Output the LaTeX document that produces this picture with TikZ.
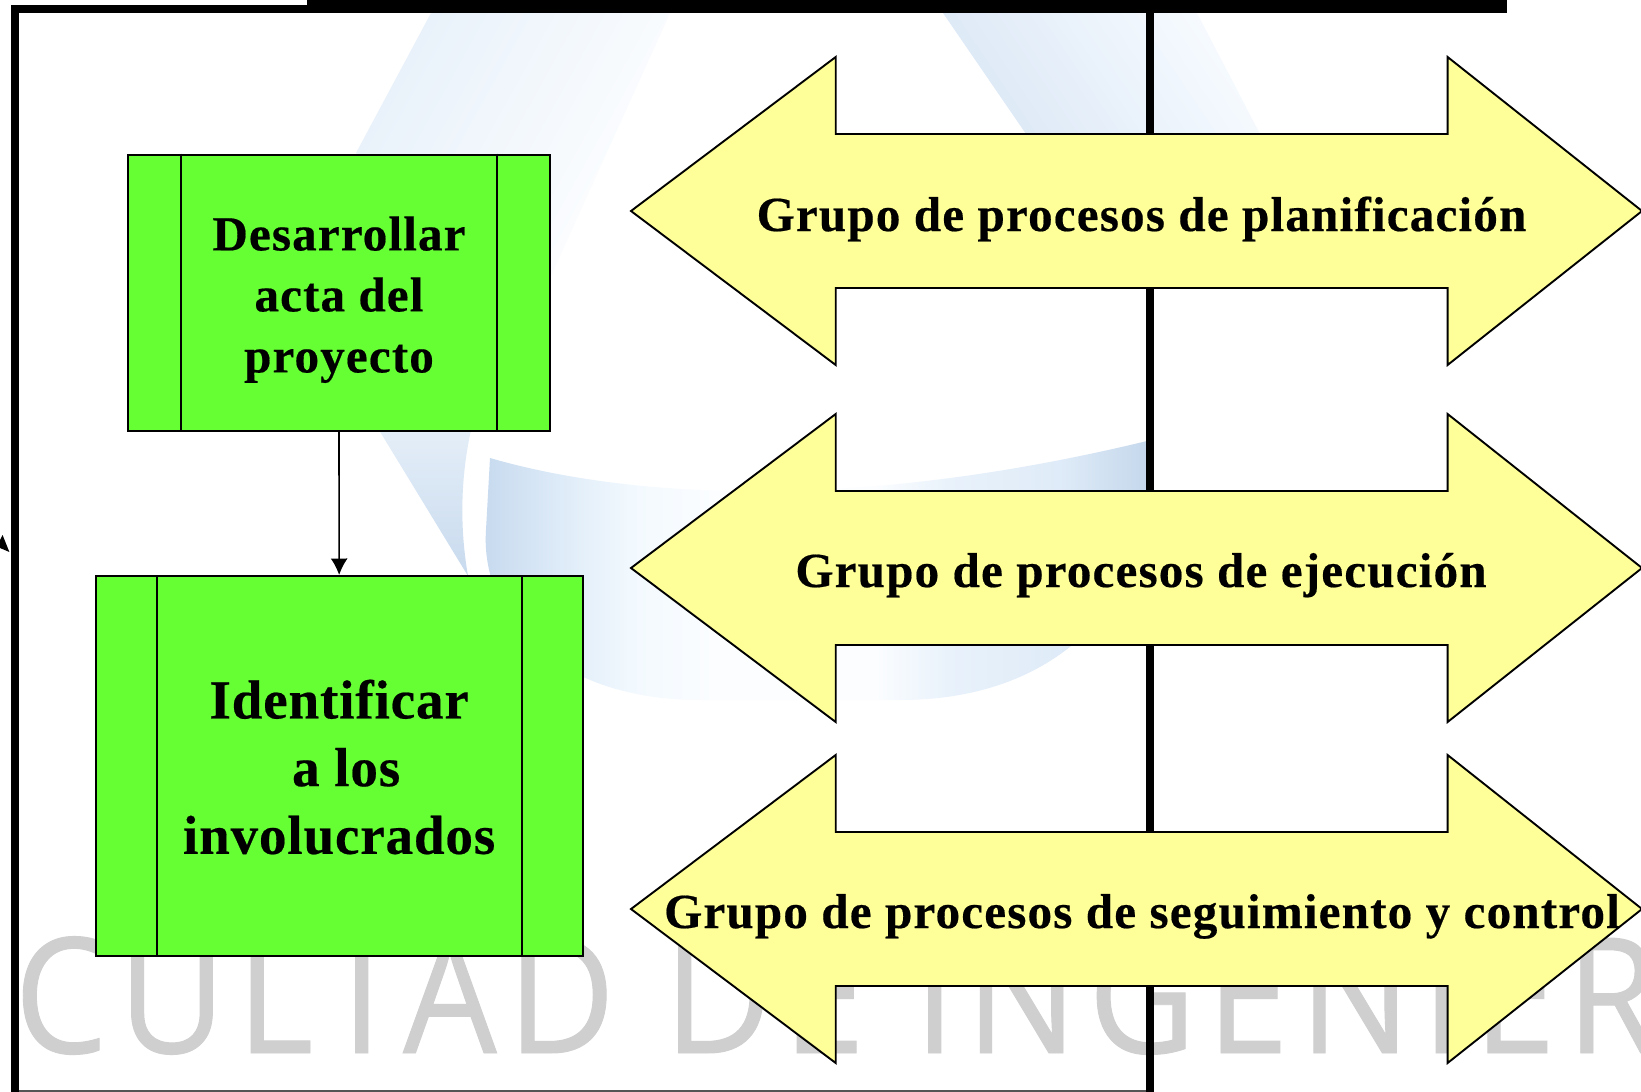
\documentclass[tikz,border=0pt]{standalone}
\usepackage{fontspec}
\setmainfont{Liberation Serif}
\newfontfamily\wmfont[LetterSpace=7.1,FakeBold=0.6]{Open Sans}
\usetikzlibrary{arrows.meta}
\definecolor{gren}{HTML}{66FF33}
\definecolor{yel}{HTML}{FFFF99}
\definecolor{wmgray}{HTML}{CFCFCF}
\definecolor{ca}{HTML}{C6D9EE}
\definecolor{cb}{HTML}{DBE9F7}
\definecolor{cc}{HTML}{F2F9FE}
\definecolor{cd}{HTML}{FBFDFF}
\definecolor{ce}{HTML}{E9F2FB}
\definecolor{cf}{HTML}{DFEBF8}
\definecolor{cg}{HTML}{C5D8EC}
\definecolor{ba}{HTML}{E8F1FA}
\definecolor{bb}{HTML}{DCE8F6}
\definecolor{bc}{HTML}{F7FBFF}
\definecolor{wa}{HTML}{E4EEF8}
\definecolor{wb}{HTML}{C8DAEE}
\definecolor{hair}{HTML}{555555}
\pgfdeclarehorizontalshading{cres}{100bp}{color(0bp)=(ca); color(25bp)=(ca); color(30.3bp)=(cb); color(36.4bp)=(cc); color(42.5bp)=(cd); color(54.7bp)=(cd); color(60bp)=(ce); color(68.4bp)=(cf); color(75bp)=(cg); color(100bp)=(cg)}
\newcommand{\dblarrow}[1]{%
  \draw[arrowshape] (631,#1) -- (835.7,#1-154) -- (835.7,#1-77) -- (1447.6,#1-77) -- (1447.6,#1-154)
    -- (1642,#1) -- (1447.6,#1+154) -- (1447.6,#1+77) -- (835.7,#1+77) -- (835.7,#1+154) -- cycle;}
\tikzset{
  framebar/.style={fill=black,draw=none},
  arrowshape/.style={fill=yel,draw=black,line width=1.9pt,line join=miter},
  procbox/.style={fill=gren,draw=black,line width=2pt,inner sep=0pt,align=center},
  boxrule/.style={draw=black,line width=1.8pt},
  grouplabel/.style={anchor=base,inner sep=0pt,font=\fontsize{49}{58}\selectfont\bfseries\addfontfeature{LetterSpace=2.5,FakeBold=0.4}},
}
\begin{document}
\begin{tikzpicture}[x=1pt,y=-1pt]
\useasboundingbox (0,0) rectangle (1641,1092);
\fill[white] (0,0) rectangle (1641,1092);
\begin{scope}
\clip (0,0) rectangle (1641,1092);
% watermark: logo bands
\shade[top color=ba,bottom color=white,shading angle=61]
  (431,13) -- (670,13) -- (540,300) -- (356,153) -- cycle;
\shade[top color=bb,bottom color=bc,shading angle=124]
  (943,13) -- (1197,13) -- (1260,134) -- (1026,134) -- cycle;
\shade[top color=wa,bottom color=wb]
  (379,430) -- (471,430) .. controls (460,480) and (460,530) .. (468,576) -- cycle;
\path[shading=cres]
  (490,458) .. controls (600,490) and (820,520) .. (1147,441) -- (1147,500)
  .. controls (1140,600) and (1060,700) .. (900,700) -- (700,700)
  .. controls (560,700) and (480,620) .. (486,530) -- cycle;
% watermark: text
\node[anchor=base west,inner sep=0pt,text=wmgray] (wm) at (14,1053)
  {\scalebox{.92}[1]{\wmfont\fontsize{161}{170}\selectfont CULTAD DE INGENIER}};
\end{scope}
% frame
\fill[framebar] (10.5,4.6) rectangle (18.8,1092);
\fill[framebar] (10.5,4.6) rectangle (307,13);
\fill[framebar] (307,0) rectangle (1146,13);
\fill[framebar] (1146,0) rectangle (1507,12.5);
\fill[framebar] (1146,0) rectangle (1154,1092);
\draw[hair,line width=1.5pt] (18.8,1091) -- (1146,1091);
\fill[black] (2.6,535) -- (9.4,552) -- (0,548) -- (0,540) -- cycle;
% double arrows
\dblarrow{211}
\dblarrow{568}
\dblarrow{909}
\node[grouplabel] (g1) at (1141.5,231) {Grupo de procesos de planificación};
\node[grouplabel] (g2) at (1141,587) {Grupo de procesos de ejecución};
\node[grouplabel] (g3) at (1142,928) {Grupo de procesos de seguimiento y control};
% process boxes
\node[procbox,minimum width=422pt,minimum height=276pt,
  font=\fontsize{49}{61}\selectfont\bfseries\addfontfeature{LetterSpace=2.4,FakeBold=0.4}] (b1) at (339,292.5)
  {\raisebox{-12.9pt}[0pt][0pt]{\begin{tabular}{@{}c@{}}Desarrollar\\acta del\\proyecto\end{tabular}}};
\draw[boxrule] ([xshift=54pt]b1.north west) -- ([xshift=54pt]b1.south west);
\draw[boxrule] ([xshift=-54pt]b1.north east) -- ([xshift=-54pt]b1.south east);
\node[procbox,minimum width=487pt,minimum height=380pt,
  font=\fontsize{55}{67.7}\selectfont\bfseries\addfontfeature{LetterSpace=1.6,FakeBold=0.4}] (b2) at (339.15,766)
  {\raisebox{-12.8pt}[0pt][0pt]{\begin{tabular}{@{}c@{}}Identificar\\\hspace*{14pt}a los\\involucrados\end{tabular}}};
\draw[boxrule] ([xshift=62.5pt]b2.north west) -- ([xshift=62.5pt]b2.south west);
\draw[boxrule] ([xshift=-62pt]b2.north east) -- ([xshift=-62pt]b2.south east);
\draw[line width=1.6pt,-{Latex[length=16.5pt,width=17pt]}] (b1.south) -- (b2.north);
\end{tikzpicture}
\end{document}
